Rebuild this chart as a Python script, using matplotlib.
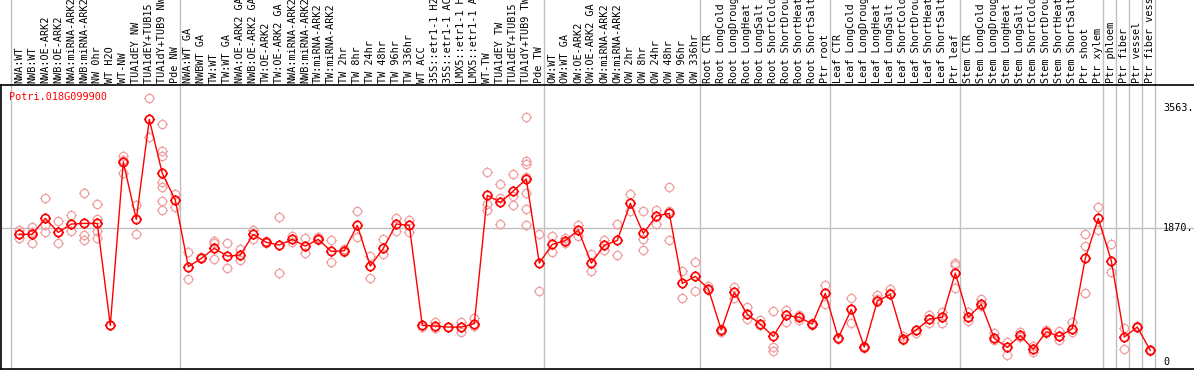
import matplotlib
matplotlib.use("Agg")
import matplotlib.pyplot as plt
from matplotlib.path import Path
import numpy as np

# ---- data ----
gene = "Potri.018G099900"

labels = [
    "NWA:WT", "NWB:WT", "NWA:OE-ARK2", "NWB:OE-ARK2", "NWA:miRNA-ARK2",
    "NWB:miRNA-ARK2", "NW 0hr", "WT H2O", "WT-NW", "TUA1dEY NW",
    "TUA1dEY+TUB15 NW", "TUA1dY+TUB9 NW", "Pde NW",
    "NWA:WT GA", "NWBWT GA", "TW:WT", "TW:WT GA", "NWA:OE-ARK2 GA",
    "NWB:OE-ARK2 GA", "TW:OE-ARK2", "TW:OE-ARK2 GA", "NWA:miRNA-ARK2",
    "NWB:miRNA-ARK2", "TW:miRNA-ARK2", "TW:miRNA-ARK2", "TW 2hr", "TW 8hr",
    "TW 24hr", "TW 48hr", "TW 96hr", "TW 336hr", "WT ACC",
    "35S::etr1-1 H2O", "35S::etr1-1 ACC", "LMX5::etr1-1 H2O",
    "LMX5::etr1-1 ACC", "WT-TW", "TUA1dEY TW", "TUA1dEY+TUB15 TW",
    "TUA1dY+TUB9 TW", "Pde TW",
    "OW:WT", "OW:WT GA", "OW:OE-ARK2", "OW:OE-ARK2 GA", "OW:miRNA-ARK2",
    "OW:miRNA-ARK2", "OW 2hr", "OW 8hr", "OW 24hr", "OW 48hr", "OW 96hr",
    "OW 336hr",
    "Root CTR", "Root LongCold", "Root LongDrought", "Root LongHeat",
    "Root LongSalt", "Root ShortCold", "Root ShortDrought", "Root ShortHeat",
    "Root ShortSalt", "Ptr root",
    "Leaf CTR", "Leaf LongCold", "Leaf LongDrought", "Leaf LongHeat",
    "Leaf LongSalt", "Leaf ShortCold", "Leaf ShortDrought", "Leaf ShortHeat",
    "Leaf ShortSalt", "Ptr leaf",
    "Stem CTR", "Stem LongCold", "Stem LongDrought", "Stem LongHeat",
    "Stem LongSalt", "Stem ShortCold", "Stem ShortDrought", "Stem ShortHeat",
    "Stem ShortSalt", "Ptr shoot", "Ptr xylem",
    "Ptr phloem", "Ptr fiber", "Ptr vessel", "Ptr fiber vessel",
]

means = [
    1785, 1785, 2009, 1813, 1930, 1939, 1939, 509, 2799, 1995,
    3397, 2640, 2266,
    1332, 1449, 1589, 1481, 1495, 1785, 1673, 1636, 1715, 1621, 1715,
    1547, 1556, 1911, 1341, 1589, 1930, 1911, 509, 500, 486, 486, 533,
    2332, 2234, 2393, 2561, 1383,
    1645, 1696, 1846, 1383, 1631, 1701, 2220, 1799, 2042, 2079, 1098,
    1196,
    1023, 444, 972, 664, 528, 355, 650, 622, 528, 958,
    332, 734, 206, 850, 944, 322, 444, 598, 622, 1243,
    622, 804, 327, 201, 369, 173, 421, 355, 463, 1449, 2009,
    1416, 346, 486, 159,
]

reps = [
    [1850, 1729, 1785], [1888, 1659, 1820], [2290, 1911, 1813], [1967, 1659, 1813],
    [2056, 1827, 1930], [2360, 1776, 1701], [2210, 1995, 1827, 1729], [509, 520],
    [2883, 2640, 2830], [2196, 1790], [3692, 3154, 3397],
    [3327, 2953, 2879, 2523, 2444, 2248, 2131], [2351, 2164],
    [1533, 1154], [1449, 1470], [1692, 1660, 1435], [1659, 1308], [1575, 1425],
    [1850, 1715], [1690, 1660], [2028, 1243], [1760, 1680], [1729, 1519],
    [1750, 1700], [1701, 1393], [1575, 1540], [2112, 1743], [1481, 1168],
    [1715, 1505], [2014, 1837], [1986, 1822], [490, 520], [551, 470], [480, 490],
    [551, 411], [607, 500], [2654, 2206, 2126], [2486, 2290, 1925],
    [2626, 2322, 2192], [3425, 2813, 2766, 2593, 2360, 2136, 1911], [1785, 991],
    [1757, 1533], [1740, 1660], [1921, 1757], [1505, 1266], [1706, 1561],
    [1925, 1491], [2346, 2108], [2108, 1724, 1561], [2126, 1925],
    [2449, 2117, 1701], [1266, 888], [1393, 986],
    [1060, 1000], [420, 460], [1047, 888], [762, 598], [584, 510],
    [710, 210, 150], [724, 551], [650, 590], [540, 520], [1075, 804],
    [332, 320], [888, 537], [190, 220], [935, 880], [1014, 960], [360, 300],
    [400, 444], [650, 540], [692, 542], [1388, 1355, 1028],
    [701, 575], [879, 780], [397, 300], [276, 89], [421, 340], [224, 140],
    [440, 400], [430, 308], [551, 411], [1785, 1622, 958], [2164, 1841],
    [1650, 1262], [472, 173], [500, 480], [170, 150],
]

# last column index of each sample group (-1 = left edge)
group_ends = [-1, 12, 40, 52, 62, 72, 83, 84, 85, 86, 87]
yticks = [0, 1870, 3563]
ytick_text = ["0", "1870.", "3563."]

# ---- figure ----
W, H = 1194, 370
fig = plt.figure(figsize=(W / 100, H / 100), dpi=100)
ax_top, ax_bot = 85, 369
ax = fig.add_axes([1 / W, (H - ax_bot) / H, 1 - 1 / W, (ax_bot - ax_top) / H])

x0, dx = 19.3, 13.0
ax.set_xlim((1 - x0) / dx, (W - x0) / dx)
ax.set_ylim(-102, 3879)

mono = "DejaVu Sans Mono"
fs = 7.3
red = "#ff0000"
pink = "#f0a0a0"

# circle marker with little ticks
circ = Path.unit_circle()
ticks = []
for a in (0, np.pi / 2, np.pi, 3 * np.pi / 2):
    c, s = np.cos(a), np.sin(a)
    ticks.append(Path([(c, s), (1.28 * c, 1.28 * s)], [Path.MOVETO, Path.LINETO]))
sun = Path.make_compound_path(circ, *ticks)

x = np.arange(len(means))
for i, r in enumerate(reps):
    ax.plot([i] * len(r), r, linestyle="none", marker=sun, markersize=7.6,
            markerfacecolor="none", markeredgecolor=pink, markeredgewidth=0.9,
            zorder=2)
ax.plot(x, means, color=red, linewidth=1.0, marker=sun, markersize=7.6,
        markerfacecolor="none", markeredgecolor=red, markeredgewidth=1.2,
        zorder=3)

# grid
ax.axhline(1870, color="#c0c0c0", linewidth=1.0, zorder=1)
extra = 1 + (ax_top) / (ax_bot - ax_top)
for g in group_ends:
    ax.axvline(g + 0.36, ymin=0, ymax=extra, color="#c0c0c0", linewidth=1.0,
               clip_on=False, zorder=1)

ax.spines["right"].set_visible(False)
for sp in ("left", "top", "bottom"):
    ax.spines[sp].set_linewidth(1.2)
ax.set_xticks([])
ax.set_yticks([])

# sample labels above the plot
for i, lab in enumerate(labels):
    ax.text(i, 1.006, lab, transform=ax.get_xaxis_transform(), rotation=90,
            ha="center", va="bottom", fontsize=fs, family=mono, clip_on=False)

# value labels at the right
for v, t in zip(yticks, ytick_text):
    ax.text((1163 - x0) / dx, v, t, ha="left", va="center", fontsize=fs,
            family=mono)

ax.text((9 - x0) / dx, 3711, gene, ha="left", va="center", fontsize=fs,
        family=mono, color=red)

fig.savefig("out.png", dpi=100)
